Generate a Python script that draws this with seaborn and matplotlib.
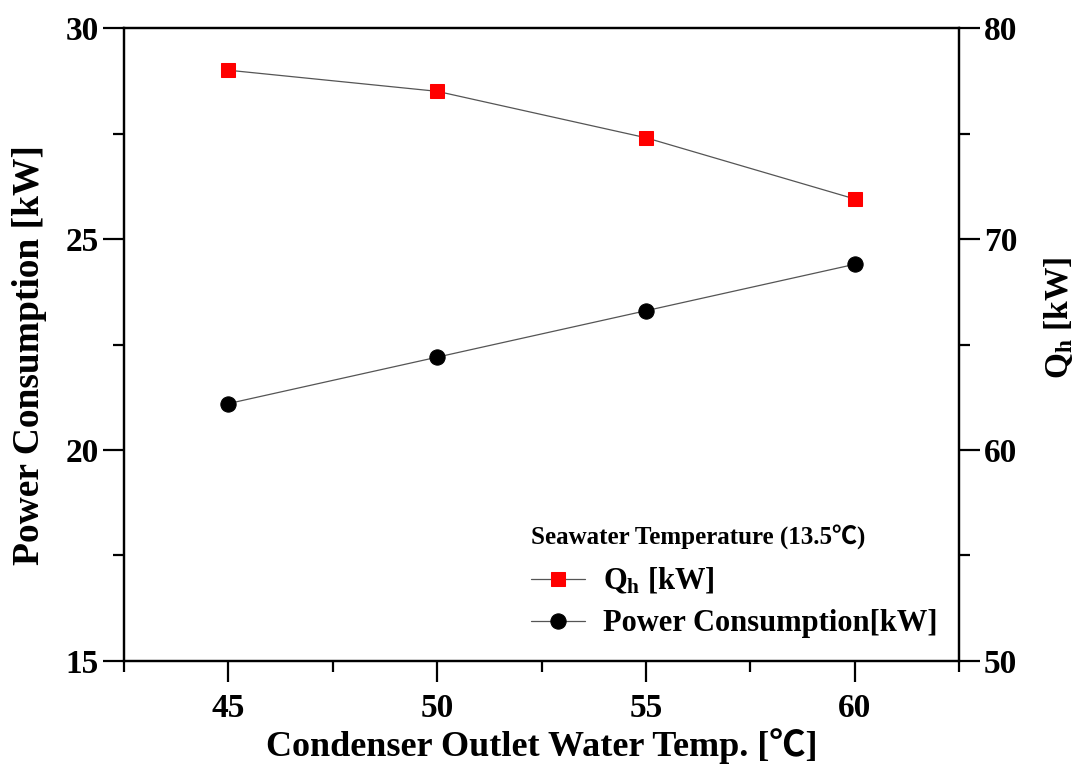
import matplotlib
matplotlib.use("Agg")
import matplotlib.pyplot as plt
import seaborn as sns
import pandas as pd
from matplotlib.ticker import MultipleLocator

# data
temps = [45, 50, 55, 60]
qh_kw = [78.0, 77.0, 74.8, 71.9]
power_kw = [21.1, 22.2, 23.3, 24.4]

df = pd.DataFrame({"temp": temps, "qh": qh_kw, "power": power_kw})

sns.set_style("ticks")
plt.rcParams["font.family"] = ["Liberation Serif", "Noto Sans CJK KR", "DejaVu Sans"]
plt.rcParams["font.weight"] = "bold"
for k in ("text.color", "axes.labelcolor", "xtick.color", "ytick.color", "axes.edgecolor"):
    plt.rcParams[k] = "black"
plt.rcParams["mathtext.fontset"] = "custom"
plt.rcParams["mathtext.rm"] = "Liberation Serif:bold"
plt.rcParams["mathtext.bf"] = "Liberation Serif:bold"
plt.rcParams["mathtext.it"] = "Liberation Serif:bold"

fig = plt.figure(figsize=(10.89, 7.74), dpi=100)
ax = fig.add_axes([0.1139, 0.146, 0.7667, 0.8178])
ax2 = ax.twinx()

line_kw = dict(color="#555555", linewidth=0.9)
sns.lineplot(data=df, x="temp", y="power", ax=ax, marker="o", markersize=11,
             markerfacecolor="black", markeredgecolor="black", **line_kw)
sns.lineplot(data=df, x="temp", y="qh", ax=ax2, marker="s", markersize=10,
             markerfacecolor="red", markeredgecolor="red", **line_kw)

ax.set_xlim(42.5, 62.5)
ax.set_ylim(15, 30)
ax2.set_ylim(50, 80)
ax.xaxis.set_major_locator(MultipleLocator(5))
ax.xaxis.set_minor_locator(MultipleLocator(2.5))
ax.yaxis.set_major_locator(MultipleLocator(5))
ax.yaxis.set_minor_locator(MultipleLocator(2.5))
ax2.yaxis.set_major_locator(MultipleLocator(10))
ax2.yaxis.set_minor_locator(MultipleLocator(5))

for a in (ax, ax2):
    for s in a.spines.values():
        s.set_linewidth(1.6)
        s.set_color("black")
    a.tick_params(which="major", length=15, width=1.6, labelsize=24, direction="out", pad=3)
    a.tick_params(which="minor", length=8, width=1.6, direction="out")
ax.tick_params(axis="x", which="major", pad=8)

ax.set_xlabel("Condenser Outlet Water Temp. [℃]", fontsize=26, fontweight="bold")
ax.set_ylabel("Power Consumption [kW]", fontsize=27, fontweight="bold")
ax2.set_ylabel(r"$\mathbf{Q_h}$ [kW]", fontsize=24, fontweight="bold")
ax.xaxis.set_label_coords(0.5, -0.106)
ax.yaxis.set_label_coords(-0.092, 0.483)
ax2.yaxis.set_label_coords(1.099, 0.542)

h1 = ax2.get_lines()[0]
h0 = ax.get_lines()[0]
leg = ax2.legend([h1, h0], [r"$\mathbf{Q_h}$ [kW]", "Power Consumption[kW]"],
                 title="Seawater Temperature (13.5℃)", loc="upper left",
                 bbox_to_anchor=(0.488, 0.322), bbox_transform=fig.transFigure,
                 frameon=False, fontsize=22, title_fontsize=18, alignment="left",
                 borderpad=0, borderaxespad=0, markerscale=1.0,
                 handlelength=1.75, handletextpad=0.6, labelspacing=0.42)
leg.get_title().set_fontweight("bold")
leg._legend_box.sep = 12

fig.savefig("out.png", dpi=100)
